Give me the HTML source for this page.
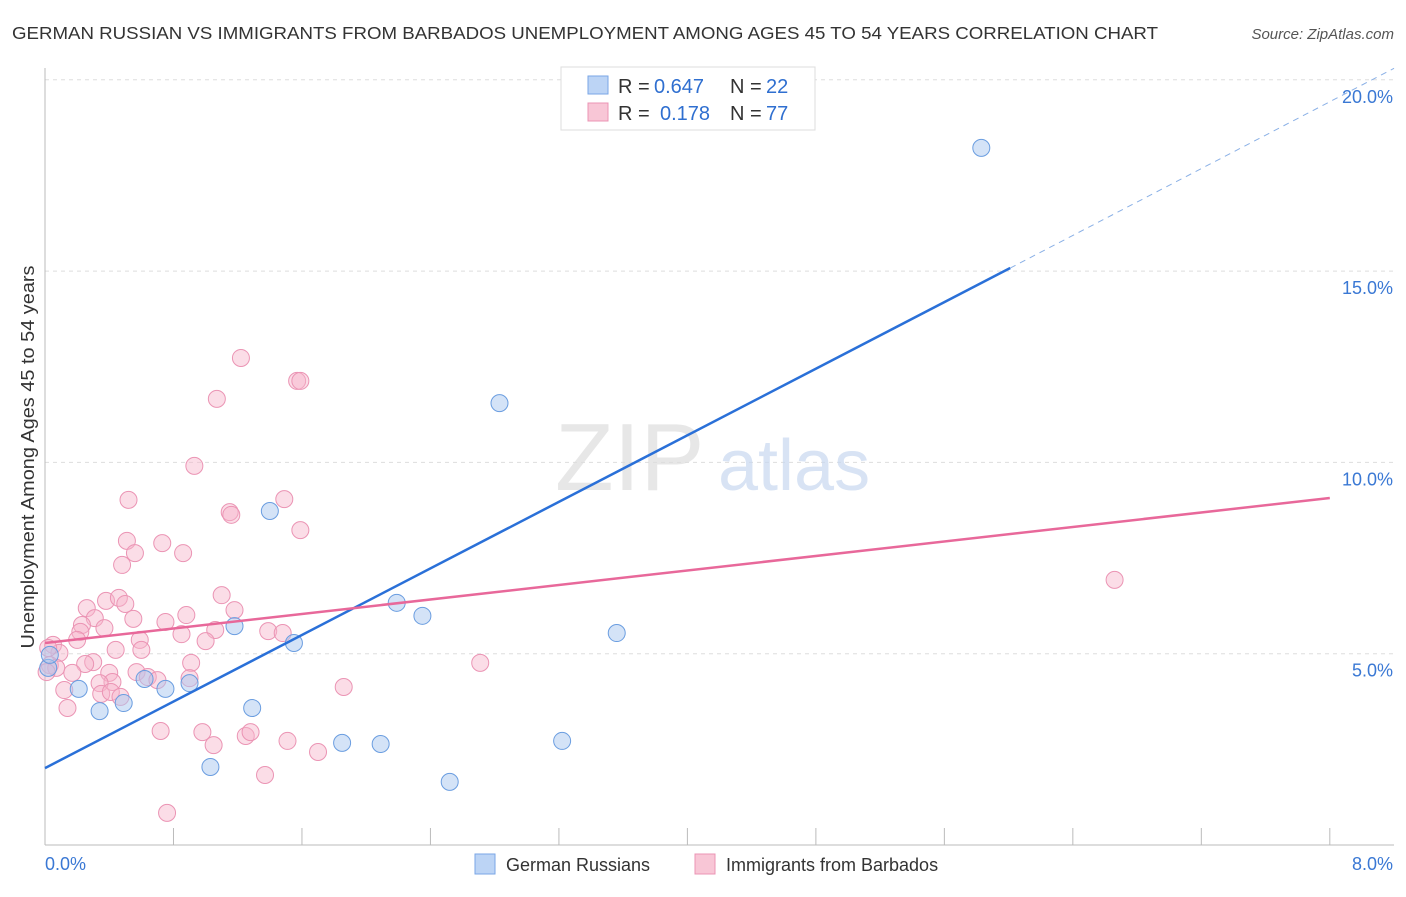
<!DOCTYPE html>
<html><head><meta charset="utf-8"><style>
body{margin:0;background:#fff;font-family:"Liberation Sans",sans-serif;}
svg text{font-family:"Liberation Sans",sans-serif;}
</style></head><body>
<svg id="chart" width="1406" height="892" viewBox="0 0 1406 892" xmlns="http://www.w3.org/2000/svg">
<text x="12" y="39" font-size="17.5" fill="#333" textLength="1146" lengthAdjust="spacingAndGlyphs">GERMAN RUSSIAN VS IMMIGRANTS FROM BARBADOS UNEMPLOYMENT AMONG AGES 45 TO 54 YEARS CORRELATION CHART</text>
<text x="1394" y="39" font-size="15" fill="#555" text-anchor="end" font-style="italic">Source: ZipAtlas.com</text>
<g id="grid"></g>
<text x="555" y="490" font-size="96" fill="#ddd" font-family="Liberation Serif" opacity="0.7">ZIP</text>
<text x="718" y="490" font-size="72" fill="#c8d8f0" opacity="0.7">atlas</text>
<g id="axes"></g>
<g id="pts"></g>
<g id="lines"></g>
<text transform="translate(34,457) rotate(-90)" font-size="18" fill="#333" text-anchor="middle" textLength="383" lengthAdjust="spacingAndGlyphs">Unemployment Among Ages 45 to 54 years</text>
<g>
<rect x="561" y="67" width="254" height="63" fill="#fff" stroke="#ddd"/>
<rect x="588" y="76" width="20" height="18" fill="#bcd4f5" stroke="#7aa6e6"/>
<rect x="588" y="103" width="20" height="18" fill="#f8c6d6" stroke="#eb94b4"/>
<text x="618" y="93" font-size="20" fill="#333">R =</text>
<text x="654" y="93" font-size="20" fill="#2f6fd0">0.647</text>
<text x="730" y="93" font-size="20" fill="#333">N =</text>
<text x="766" y="93" font-size="20" fill="#2f6fd0">22</text>
<text x="618" y="120" font-size="20" fill="#333">R =</text>
<text x="660" y="120" font-size="20" fill="#2f6fd0">0.178</text>
<text x="730" y="120" font-size="20" fill="#333">N =</text>
<text x="766" y="120" font-size="20" fill="#2f6fd0">77</text>
</g>
<g>
<rect x="475" y="854" width="20" height="20" fill="#bcd4f5" stroke="#7aa6e6"/>
<text x="506" y="871" font-size="18" fill="#333">German Russians</text>
<rect x="695" y="854" width="20" height="20" fill="#f8c6d6" stroke="#eb94b4"/>
<text x="726" y="871" font-size="18" fill="#333">Immigrants from Barbados</text>
</g>
</svg>
<script>
const yTicks=[5,10,15,20];
const yTickLabels=["5.0%","10.0%","15.0%","20.0%"];
const xTickLabels=["0.0%","8.0%"];
const blueX=[0.02,0.03,0.21,0.34,0.49,0.62,0.75,0.90,1.03,1.18,1.29,1.40,1.55,1.85,2.09,2.19,2.35,2.52,2.83,3.22,3.56,5.83];
const blueY=[4.63,4.97,4.08,3.50,3.71,4.34,4.08,4.23,2.04,5.72,3.58,8.73,5.28,2.67,2.64,6.33,5.99,1.65,11.55,2.72,5.54,18.22];
const pinkX=[0.52,1.15,1.16,1.49,1.59,0.51,0.73,0.86,0.56,0.48,1.10,1.18,0.26,0.38,0.46,0.50,0.31,0.23,0.22,0.55,0.37,0.75,0.88,0.85,1.06,1.00,1.39,1.48,0.20,0.05,0.59,0.60,0.44,0.09,0.91,0.30,0.25,0.03,0.07,0.17,0.57,0.64,0.70,0.40,0.42,0.34,0.90,0.12,0.35,0.41,0.47,0.14,0.72,0.98,1.05,1.25,1.28,1.51,1.70,1.37,0.76,1.86,1.22,1.57,1.59,1.07,0.93,6.66,2.71,0.02,0.01];
const pinkY=[9.02,8.70,8.63,9.04,8.23,7.95,7.89,7.63,7.63,7.32,6.53,6.14,6.19,6.38,6.46,6.30,5.93,5.75,5.57,5.91,5.67,5.83,6.01,5.51,5.62,5.33,5.59,5.54,5.36,5.23,5.36,5.10,5.10,5.02,4.76,4.78,4.73,4.70,4.63,4.50,4.52,4.39,4.31,4.50,4.26,4.23,4.36,4.05,3.95,4.00,3.87,3.58,2.98,2.95,2.61,2.85,2.95,2.72,2.43,1.83,0.84,4.13,12.73,12.13,12.13,11.66,9.91,6.93,4.76,5.15,4.52];
const blueLine=[[0,2.01],[6.01,15.08],[8.4,20.3]];
const pinkLine=[[0,5.28],[8,9.07]];
const X=v=>45+v*160.6, Y=v=>845-v*38.26;
const NS="http://www.w3.org/2000/svg";
function mk(tag,attrs,parent){const e=document.createElementNS(NS,tag);for(const k in attrs)e.setAttribute(k,attrs[k]);parent.appendChild(e);return e;}
const grid=document.getElementById('grid'),axes=document.getElementById('axes'),pts=document.getElementById('pts'),lines=document.getElementById('lines');
yTicks.forEach((t,i)=>{
 const l=mk('line',{x1:45,x2:1394,y1:Y(t),y2:Y(t),stroke:'#ddd','stroke-dasharray':'4,4'},grid);
 
 
 const tx=mk('text',{x:1393,y:Y(t)+23,'font-size':18,fill:'#3a78d4','text-anchor':'end'},axes);
 tx.textContent=yTickLabels[i];
 
 
});
const ax=mk('line',{x1:45,x2:45,y1:68,y2:845,stroke:'#bbb'},axes);


const bx=mk('line',{x1:45,x2:1394,y1:845,y2:845,stroke:'#bbb'},axes);


for(let i=1;i<=10;i++){const t=mk('line',{x1:X(i*0.8),x2:X(i*0.8),y1:828,y2:845,stroke:'#bbb'},axes);
 
 }
[[0,'start',45],[8,'end',1393]].forEach((d,i)=>{const t=mk('text',{x:d[2],y:870,'font-size':18,fill:'#3a78d4','text-anchor':d[1]},axes);t.textContent=xTickLabels[i];
 
 });
pinkX.forEach((v,i)=>{const c=mk('circle',{cx:X(v),cy:Y(pinkY[i]),r:8.5,fill:'rgba(246,180,202,0.45)',stroke:'#eb94b4','stroke-width':1},pts);
 
 });
blueX.forEach((v,i)=>{const c=mk('circle',{cx:X(v),cy:Y(blueY[i]),r:8.5,fill:'rgba(170,200,240,0.5)',stroke:'#6a9de0','stroke-width':1},pts);
 
 });
let bl=mk('line',{x1:X(blueLine[0][0]),y1:Y(blueLine[0][1]),x2:X(blueLine[1][0]),y2:Y(blueLine[1][1]),stroke:'#2a70d8','stroke-width':2.5},lines);


let bd=mk('line',{x1:X(blueLine[1][0]),y1:Y(blueLine[1][1]),x2:X(blueLine[2][0]),y2:Y(blueLine[2][1]),stroke:'#8ab0e6','stroke-width':1,'stroke-dasharray':'6,5'},lines);


let pl=mk('line',{x1:X(pinkLine[0][0]),y1:Y(pinkLine[0][1]),x2:X(pinkLine[1][0]),y2:Y(pinkLine[1][1]),stroke:'#e8689a','stroke-width':2.5},lines);


</script>
</body></html>
